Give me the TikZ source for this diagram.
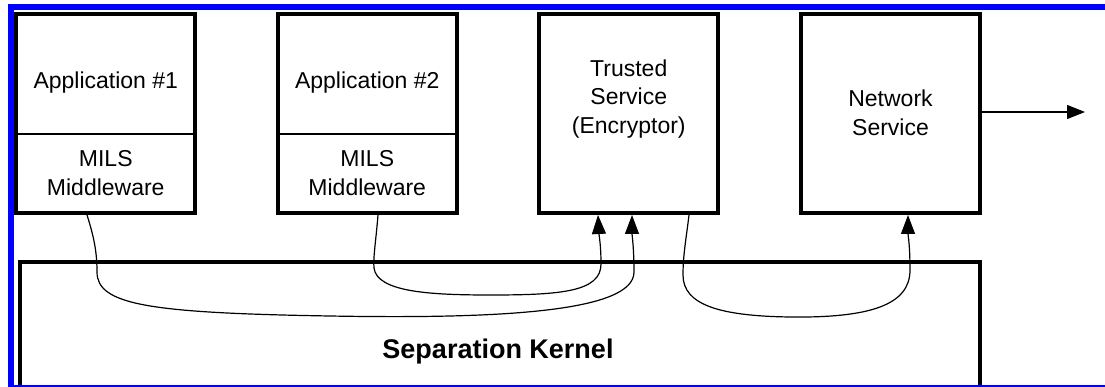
\documentclass[tikz,border=0pt]{standalone}
\usepackage{fontspec}
\setmainfont{Liberation Sans}
\usetikzlibrary{arrows.meta}

\tikzset{
  partition/.style={draw, line width=4pt, minimum width=179pt, minimum height=199pt, inner sep=0pt},
  label/.style={align=center, font=\fontsize{23}{28.5}\selectfont, inner sep=0pt},
  flow/.style={line width=1.2pt, -{Triangle[length=19pt, width=14pt]}},
  frameblue/.style={fill={rgb,255:red,0;green,0;blue,255}}
}

\begin{document}
\begin{tikzpicture}[x=1pt, y=-1pt]
  \useasboundingbox (0,0) rectangle (1105,387);
  \fill[white] (0,0) rectangle (1105,387);

  % partitions
  \node[partition] (app1) at (105.75,113.5) {};
  \node[partition] (app2) at (367.25,113.5) {};
  \node[partition] (trust) at (628.75,113.5) {};
  \node[partition] (net) at (890.5,113.5) {};

  % middleware dividers
  \draw[line width=1.2pt] (app1.west |- 0,134) -- (app1.east |- 0,134);
  \draw[line width=1.2pt] (app2.west |- 0,134) -- (app2.east |- 0,134);

  % partition labels
  \node[label] at (105.75,83) {Application \#1};
  \node[label] at (105.75,173) {MILS\\Middleware};
  \node[label] at (367.25,83) {Application \#2};
  \node[label] at (367.25,173) {MILS\\Middleware};
  \node[label] at (628.75,99) {Trusted\\Service\\(Encryptor)};
  \node[label] at (890.5,113) {Network\\Service};

  % separation kernel (open at the bottom)
  \begin{scope}
    \clip (0,0) rectangle (1105,387);
    \draw[line width=4pt] (20,400) -- (20,262) -- (980,262) -- (980,400);
  \end{scope}
  \node[font=\bfseries\fontsize{27}{32}\selectfont, inner sep=0pt] (kern) at (498,352) {Separation Kernel};

  % flows through the kernel
  \coordinate (a1) at ([xshift=-18.75pt]app1.south);
  \coordinate (a2) at ([xshift=10.75pt]app2.south);
  \coordinate (t1) at ([xshift=-30.75pt]trust.south);
  \coordinate (t2) at ([xshift=3.25pt]trust.south);
  \coordinate (t3) at ([xshift=60.25pt]trust.south);
  \coordinate (n1) at ([xshift=17.5pt]net.south);

  \draw[flow] (a1) .. controls (95,240) and (97,255) .. (97,272)
     .. controls (97,305) and (150,313) .. (330,316)
     .. controls (500,319) and (634,312) .. (634,272)
     .. controls (634,248) and (632,235) .. (t2);
  \draw[flow] (a2) .. controls (376,240) and (373,258) .. (374,268)
     .. controls (377,292) and (430,295) .. (490,295)
     .. controls (560,295) and (601,292) .. (601,264)
     .. controls (601,245) and (599,235) .. (t1);
  \draw[flow] (t3) .. controls (686,240) and (683,255) .. (683,275)
     .. controls (683,305) and (720,316) .. (790,317)
     .. controls (870,318) and (910,305) .. (910,270)
     .. controls (910,245) and (908,235) .. (n1);

  % outgoing network link
  \coordinate (out) at (1085,112);
  \draw[line width=1.2pt, -{Triangle[length=18pt, width=14pt]}] ([yshift=1.5pt]net.east) -- (out);

  % frame
  \fill[frameblue] (8,4) rectangle (1105,10);
  \fill[frameblue] (8,4) rectangle (14,387);
  \fill[frameblue] (8,385) rectangle (1105,387);
\end{tikzpicture}
\end{document}
